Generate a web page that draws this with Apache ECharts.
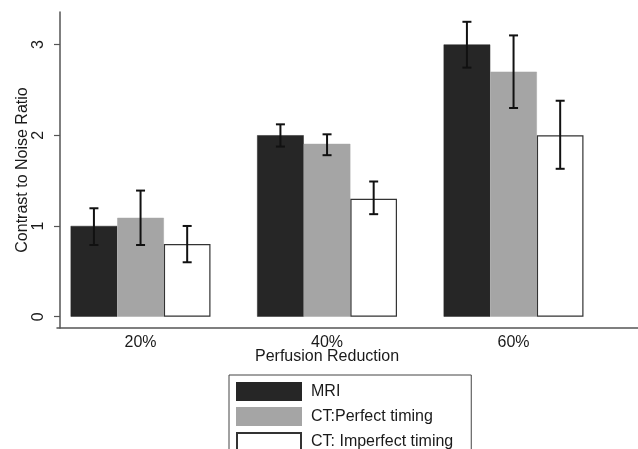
<!DOCTYPE html>
<html>
<head>
<meta charset="utf-8">
<script src="https://cdn.jsdelivr.net/npm/echarts@6/dist/echarts.min.js"></script>
<style>
html,body{margin:0;padding:0;background:#fff;}
#chart{width:638px;height:449px;}
</style>
</head>
<body>
<div id="chart"></div>
<script>
const categories = ['20%', '40%', '60%'];
const seriesNames = ['MRI', 'CT:Perfect timing', 'CT: Imperfect timing'];
const mri = [1.0, 2.0, 3.0];
const mriLow = [0.79, 1.875, 2.745];
const mriHigh = [1.195, 2.12, 3.25];
const ctPerfect = [1.09, 1.905, 2.70];
const ctPerfectLow = [0.79, 1.78, 2.30];
const ctPerfectHigh = [1.39, 2.01, 3.10];
const ctImperfect = [0.80, 1.30, 2.00];
const ctImperfectLow = [0.60, 1.13, 1.63];
const ctImperfectHigh = [1.00, 1.49, 2.38];
const yTicks = [0, 1, 2, 3];

const FONT = '"Liberation Sans", Arial, Helvetica, sans-serif';
const TXT = '#1a1a1a';
const AX = '#555';

function errData(lo, hi) {
  return categories.map((c, i) => [i, lo[i], hi[i]]);
}
function errSeries(idx, lo, hi) {
  return {
    type: 'custom',
    xAxisIndex: 0, yAxisIndex: 0,
    z: 10,
    silent: true,
    data: errData(lo, hi),
    renderItem: function (params, api) {
      const band = api.size([1, 0])[0];
      const bw = band * 0.25;
      const off = (idx - 1) * bw;
      const xi = api.value(0);
      const x = api.coord([xi, 0])[0] + off;
      const yLo = api.coord([xi, api.value(1)])[1];
      const yHi = api.coord([xi, api.value(2)])[1];
      const cap = 4.5;
      const st = { stroke: '#111', lineWidth: 2 };
      return {
        type: 'group',
        children: [
          { type: 'line', shape: { x1: x, y1: yLo, x2: x, y2: yHi }, style: st },
          { type: 'line', shape: { x1: x - cap, y1: yHi, x2: x + cap, y2: yHi }, style: st },
          { type: 'line', shape: { x1: x - cap, y1: yLo, x2: x + cap, y2: yLo }, style: st }
        ]
      };
    }
  };
}

const chart = echarts.init(document.getElementById('chart'), null, { renderer: 'canvas' });
chart.setOption({
  animation: false,
  backgroundColor: '#fff',
  textStyle: { fontFamily: FONT, color: TXT },
  grid: [
    { left: 47.3, right: 31.2, top: 12, bottom: 121 },
    { left: 57, right: 0, top: 12, bottom: 121 }
  ],
  legend: {
    left: 229, top: 375,
    width: 220, height: 70,
    orient: 'vertical',
    icon: 'rect',
    itemWidth: 64, itemHeight: 17, itemGap: 6,
    padding: [7, 18, 7, 7],
    borderColor: '#444', borderWidth: 1,
    data: seriesNames,
    textStyle: { fontFamily: FONT, fontSize: 16, color: TXT, padding: [0, 0, 0, 5] }
  },
  xAxis: [
    {
      type: 'category', gridIndex: 0, data: categories,
      axisLine: { show: false }, axisTick: { show: false },
      axisLabel: { fontSize: 16, color: TXT, margin: 7, fontFamily: FONT },
      name: 'Perfusion Reduction', nameLocation: 'middle', nameGap: 21,
      nameMoveOverlap: false,
      nameTextStyle: { fontSize: 16, color: TXT, fontFamily: FONT },
      splitLine: { show: false }
    },
    {
      type: 'value', gridIndex: 1, min: 0, max: 1,
      axisLine: { show: true, lineStyle: { color: AX, width: 1.5 } },
      axisTick: { show: false }, axisLabel: { show: false }, splitLine: { show: false }
    }
  ],
  yAxis: [
    {
      type: 'value', gridIndex: 0, min: -0.1245, max: 3.358,
      offset: -12.7,
      axisLine: { show: true, lineStyle: { color: AX, width: 1.5 } },
      axisTick: { show: true, length: 6, lineStyle: { color: AX, width: 1.2 }, customValues: yTicks },
      axisLabel: { rotate: 90, fontSize: 16, color: TXT, margin: 13, customValues: yTicks, fontFamily: FONT },
      splitLine: { show: false },
      name: 'Contrast to Noise Ratio', nameLocation: 'middle', nameRotate: 90, nameGap: 29,
      nameMoveOverlap: false,
      nameTextStyle: { fontSize: 16, color: TXT, fontFamily: FONT }
    },
    { type: 'value', gridIndex: 1, show: false, min: 0, max: 1 }
  ],
  series: [
    { name: seriesNames[0], type: 'bar', data: mri, barWidth: '25%', barGap: '0%',
      itemStyle: { color: '#262626', borderColor: '#262626', borderWidth: 0.5 } },
    { name: seriesNames[1], type: 'bar', data: ctPerfect, barWidth: '25%', barGap: '0%',
      itemStyle: { color: '#a5a5a5', borderColor: '#a5a5a5', borderWidth: 0.5 } },
    { name: seriesNames[2], type: 'bar', data: ctImperfect, barWidth: '25%', barGap: '0%',
      itemStyle: { color: '#ffffff', borderColor: '#333', borderWidth: 1.2 } },
    errSeries(0, mriLow, mriHigh),
    errSeries(1, ctPerfectLow, ctPerfectHigh),
    errSeries(2, ctImperfectLow, ctImperfectHigh)
  ]
});
</script>
</body>
</html>
